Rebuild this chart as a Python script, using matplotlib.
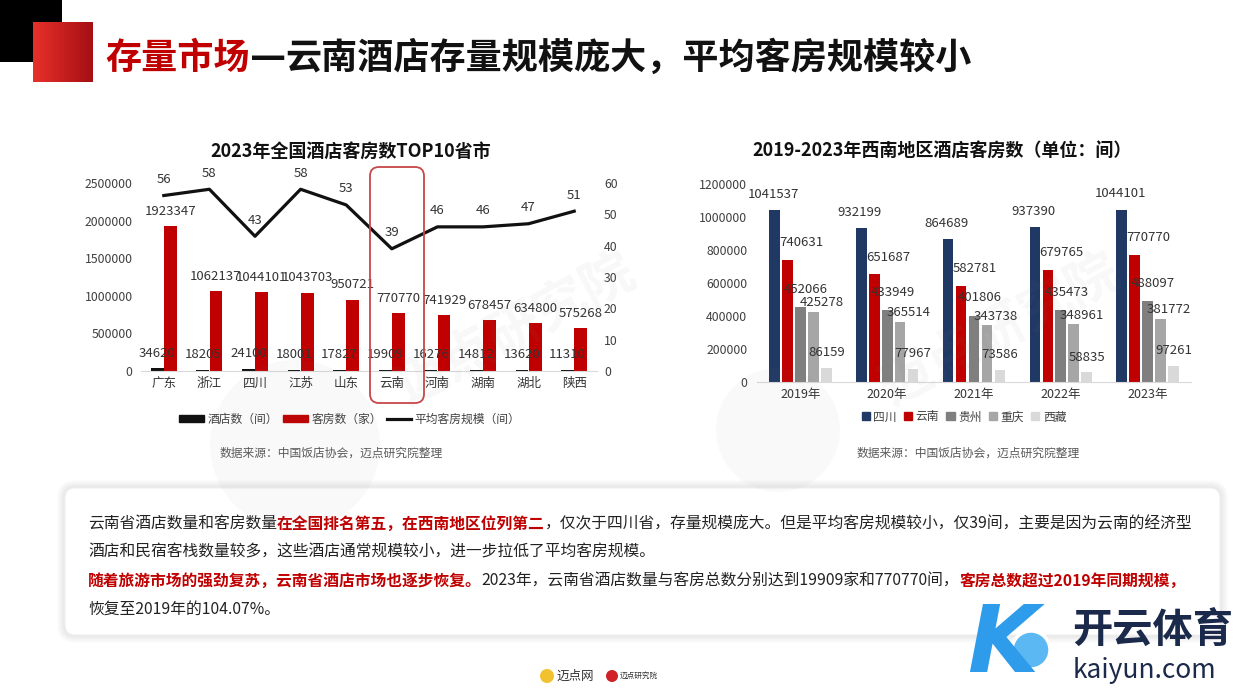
import numpy as np
import matplotlib
matplotlib.use('Agg')
import matplotlib.pyplot as plt
from matplotlib.patches import Rectangle, FancyBboxPatch, Circle, Patch
from matplotlib.lines import Line2D
from matplotlib.colors import LinearSegmentedColormap

plt.rcParams['font.family'] = ['Noto Sans CJK SC', 'DejaVu Sans']

# ---------------- data ----------------
provinces = ['广东', '浙江', '四川', '江苏', '山东', '云南', '河南', '湖南', '湖北', '陕西']
hotel_counts = [34620, 18205, 24100, 18001, 17827, 19909, 16276, 14812, 13620, 11310]
room_counts = [1923347, 1062137, 1044101, 1043703, 950721, 770770, 741929, 678457, 634800, 575268]
avg_rooms = [56, 58, 43, 58, 53, 39, 46, 46, 47, 51]
left_yticks = [0, 500000, 1000000, 1500000, 2000000, 2500000]
left_y2ticks = [0, 10, 20, 30, 40, 50, 60]
left_legend = ['酒店数（间）', '客房数（家）', '平均客房规模（间）']

years = ['2019年', '2020年', '2021年', '2022年', '2023年']
regions = ['四川', '云南', '贵州', '重庆', '西藏']
sichuan = [1041537, 932199, 864689, 937390, 1044101]
yunnan = [740631, 651687, 582781, 679765, 770770]
guizhou = [452066, 433949, 401806, 435473, 488097]
chongqing = [425278, 365514, 343738, 348961, 381772]
xizang = [86159, 77967, 73586, 58835, 97261]
right_yticks = [0, 200000, 400000, 600000, 800000, 1000000, 1200000]

# ---------------- figure ----------------
W, H = 1242, 699
fig = plt.figure(figsize=(W / 100, H / 100), dpi=100)
fig.patch.set_facecolor('white')
renderer = fig.canvas.get_renderer()

bg = fig.add_axes([0, 0, 1, 1], zorder=0)
bg.set_xlim(0, W); bg.set_ylim(H, 0); bg.axis('off')

top = fig.add_axes([0, 0, 1, 1], zorder=10)
top.set_xlim(0, W); top.set_ylim(H, 0); top.axis('off')
top.patch.set_alpha(0)


def fa(x0, y0, x1, y1):
    return [x0 / W, 1 - y1 / H, (x1 - x0) / W, (y1 - y0) / H]


def rich(ax, x, y, segs, size):
    for seg in segs:
        s, col, bold = seg[:3]
        fam = seg[3] if len(seg) > 3 else None
        kw = {}
        if fam:
            kw['family'] = fam
        t = ax.text(x, y, s, color=col, fontsize=size,
                    fontweight='bold' if bold else 'normal', va='center', ha='left', **kw)
        bb = t.get_window_extent(renderer=renderer)
        x = bb.x1
    return x


RED = '#C00000'
TXT = '#333333'

# header decorations
bg.add_patch(Rectangle((0, 0), 62, 62, color='black', lw=0))
grad = np.linspace(0, 1, 100).reshape(1, -1)
cm = LinearSegmentedColormap.from_list('r', ['#E8302A', '#A50F14'])
bg.imshow(grad, extent=(33, 93, 82, 22), cmap=cm, aspect='auto', zorder=2)
bg.set_xlim(0, W); bg.set_ylim(H, 0)
rich(bg, 105, 58, [('存量市场', RED, True),
                   ('—', '#111111', True, ['DejaVu Sans']),
                   ('云南酒店存量规模庞大，平均客房规模较小', '#111111', True)], 26)

# ---------------- left chart ----------------
ax1 = fig.add_axes(fa(141, 183, 597, 371), zorder=2)
ax1.patch.set_alpha(0)
x = np.arange(len(provinces))
bw = 0.28
ax1.bar(x - 0.145, hotel_counts, bw, color='#111111', zorder=2)
ax1.bar(x + 0.145, room_counts, bw, color=RED, zorder=2)
ax1.set_xlim(-0.5, len(provinces) - 0.5)
ax1.set_ylim(0, 2500000)
ax1.set_yticks(left_yticks)
ax1.set_yticklabels([str(v) for v in left_yticks])
ax1.set_xticks(x)
ax1.set_xticklabels(provinces)
ax1.tick_params(axis='y', length=0, labelsize=8.8, colors='#404040', pad=6)
ax1.tick_params(axis='x', length=0, labelsize=9, colors='#333333', pad=4)
for s in ['top', 'right', 'left']:
    ax1.spines[s].set_visible(False)
ax1.spines['bottom'].set_color('#d9d9d9')
for xi, v in zip(x, hotel_counts):
    ax1.annotate(str(v), (xi - 0.145, v), xytext=(0, 11), textcoords='offset points',
                 ha='center', va='center', fontsize=9.5, color=TXT, zorder=5)
for xi, v in zip(x, room_counts):
    ax1.annotate(str(v), (xi + 0.145, v), xytext=(0, 10.5), textcoords='offset points',
                 ha='center', va='center', fontsize=9.5, color=TXT, zorder=5)

ax1b = ax1.twinx()
ax1b.plot(x, avg_rooms, color='#111111', lw=2.3, zorder=3)
ax1b.set_ylim(0, 60)
ax1b.set_yticks(left_y2ticks)
ax1b.tick_params(axis='y', length=0, labelsize=8.8, colors='#404040', pad=5)
for s in ['top', 'right', 'left', 'bottom']:
    ax1b.spines[s].set_visible(False)
for xi, v in zip(x, avg_rooms):
    ax1b.annotate(str(v), (xi, v), xytext=(0, 11.5), textcoords='offset points',
                  ha='center', va='center', fontsize=9.5, color=TXT)

handles = [Patch(color='#111111'), Patch(color=RED), Line2D([], [], color='#111111', lw=2.3)]
leg = ax1.legend(handles, left_legend, loc='center', bbox_to_anchor=(350 / W, 1 - 419 / H),
                 bbox_transform=fig.transFigure, ncol=3, frameon=False, fontsize=8.5,
                 handlelength=2.1, handleheight=0.6, handletextpad=0.3, columnspacing=0.4)
for t in leg.get_texts():
    t.set_color('#404040')

bg.text(351, 151, '2023年全国酒店客房数TOP10省市', ha='center', va='center',
        fontsize=13, fontweight='bold', color='#111111')
bg.text(331, 453, '数据来源：中国饭店协会，迈点研究院整理', ha='center', va='center',
        fontsize=8.5, color='#595959')
top.add_patch(FancyBboxPatch((370, 167), 54, 236, boxstyle='round,pad=0,rounding_size=9',
                             fill=False, ec='#C8474A', lw=1.3))

# ---------------- right chart ----------------
ax2 = fig.add_axes(fa(757, 184, 1191, 382), zorder=2)
ax2.patch.set_alpha(0)
series = [sichuan, yunnan, guizhou, chongqing, xizang]
colors = ['#1F3864', RED, '#7F7F7F', '#A6A6A6', '#D9D9D9']
lab_off = [(-1, 11.5), (10, 12.5), (4, 13), (6, 6.5), (0, 11)]
xr = np.arange(len(years))
for j, (vals, c) in enumerate(zip(series, colors)):
    xo = xr + (j - 2) * 0.149
    ax2.bar(xo, vals, 0.123, color=c, zorder=2)
    for xi, v in zip(xo, vals):
        ax2.annotate(str(v), (xi, v), xytext=lab_off[j], textcoords='offset points',
                     ha='center', va='center', fontsize=9.5, color=TXT, zorder=5)
ax2.set_xlim(-0.5, len(years) - 0.5)
ax2.set_ylim(0, 1200000)
ax2.set_yticks(right_yticks)
ax2.set_yticklabels([str(v) for v in right_yticks])
ax2.set_xticks(xr)
ax2.set_xticklabels(years)
ax2.tick_params(axis='y', length=0, labelsize=8.8, colors='#404040', pad=7)
ax2.tick_params(axis='x', length=0, labelsize=9, colors='#333333', pad=4)
for s in ['top', 'right', 'left']:
    ax2.spines[s].set_visible(False)
ax2.spines['bottom'].set_color('#d9d9d9')
leg2 = ax2.legend([Patch(color=c) for c in colors], regions, loc='center',
                  bbox_to_anchor=(964 / W, 1 - 417 / H), bbox_transform=fig.transFigure,
                  ncol=5, frameon=False, fontsize=8.5, handlelength=0.7, handleheight=0.7,
                  handletextpad=0.3, columnspacing=0.6)
for t in leg2.get_texts():
    t.set_color('#404040')
bg.text(942, 151, '2019-2023年西南地区酒店客房数（单位：间）', ha='center', va='center',
        fontsize=13, fontweight='bold', color='#111111')
bg.text(968, 453, '数据来源：中国饭店协会，迈点研究院整理', ha='center', va='center',
        fontsize=8.5, color='#595959')

# watermarks (faint)
top.add_patch(Circle((295, 445), 85, color='#808080', alpha=0.045, lw=0))
top.add_patch(Circle((778, 430), 62, color='#808080', alpha=0.045, lw=0))
top.text(515, 330, '迈点研究院', rotation=28, fontsize=38, fontweight='bold',
         color='#808080', alpha=0.06, ha='center', va='center')
top.text(1000, 330, '迈点研究院', rotation=28, fontsize=38, fontweight='bold',
         color='#808080', alpha=0.06, ha='center', va='center')

# ---------------- text box ----------------
for s in range(1, 9):
    bg.add_patch(FancyBboxPatch((65 - s, 488 - s), 1155 + 2 * s, 147 + 2 * s,
                                boxstyle='round,pad=0,rounding_size=%d' % (10 + s),
                                fc='black', ec='none', alpha=0.012))
bg.add_patch(FancyBboxPatch((65, 488), 1155, 147, boxstyle='round,pad=0,rounding_size=10',
                            fc='white', ec='#f0f0f0', lw=0.8))
BS = 11.35
K = '#222222'
rich(bg, 88, 524, [('云南省酒店数量和客房数量', K, False),
                   ('在全国排名第五，在西南地区位列第二', RED, True),
                   ('，仅次于四川省，存量规模庞大。但是平均客房规模较小，仅39间，主要是因为云南的经济型', K, False)], BS)
rich(bg, 88, 552, [('酒店和民宿客栈数量较多，这些酒店通常规模较小，进一步拉低了平均客房规模。', K, False)], BS)
rich(bg, 88, 581, [('随着旅游市场的强劲复苏，云南省酒店市场也逐步恢复。', RED, True),
                   ('2023年，云南省酒店数量与客房总数分别达到19909家和770770间，', K, False),
                   ('客房总数超过2019年同期规模，', RED, True)], BS)
rich(bg, 88, 609, [('恢复至2019年的104.07%。', K, False)], BS)

# ---------------- footer logos ----------------
bg.add_patch(Circle((547, 676), 7, color='#F2C12E', lw=0))
bg.text(556, 676, '迈点网', fontsize=9, color='#333333', va='center')
bg.add_patch(Circle((612, 676), 6, color='#D0202A', lw=0))
bg.text(620, 676, '迈点研究院', fontsize=5.5, color='#333333', va='center')

top.text(1003, 646, 'K', fontsize=66, fontstyle='italic', fontweight='bold',
         color='#2F9BEB', ha='center', va='center', family='DejaVu Sans')
top.add_patch(Circle((1031, 650), 19, fc='#5CB8F2', ec='white', lw=2.5))
top.text(1072, 631, '开云体育', fontsize=29, fontweight='bold', color='#1B2A4A', va='center')
top.text(1073, 670, 'kaiyun.com', fontsize=19, color='#1B2A4A', va='center')

fig.savefig('out.png', dpi=100, facecolor='white')
